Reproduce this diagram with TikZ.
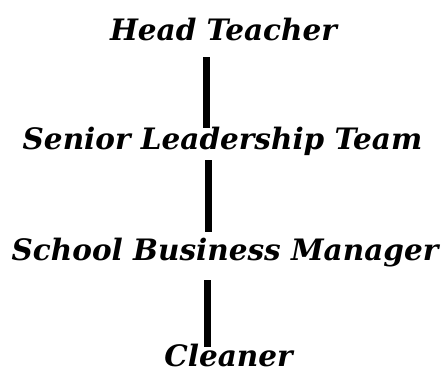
\documentclass[tikz,border=0pt]{standalone}
\usepackage{fontspec}
\setmainfont{DejaVu Serif}
\usetikzlibrary{calc}
\tikzstyle{rolename}=[anchor=base,inner sep=0pt,font=\fontsize{29.5}{34}\selectfont\bfseries\itshape]
\tikzstyle{reportline}=[black,line width=7pt]
\begin{document}
\begin{tikzpicture}[x=1pt,y=-1pt]
	% fix the page to the size of the reference
	\useasboundingbox (0,0) rectangle (445,370);
	% the four roles, placed on their baselines
	\node[rolename] (head) at (223.5,40) {Head Teacher};
	\node[rolename] (slt) at (222.5,149) {Senior Leadership Team};
	\node[rolename] (sbm) at (225,260) {School Business Manager};
	\node[rolename] (cleaner) at (228.5,366) {Cleaner};
	% end points of the reporting lines
	\coordinate (head-low) at (206.5,57);
	\coordinate (slt-high) at (206.5,128);
	\coordinate (slt-low) at (208.5,160);
	\coordinate (sbm-high) at (208.5,232);
	\coordinate (sbm-low) at (207.5,280);
	\coordinate (cleaner-high) at (207.5,347);
	\draw[reportline] (head-low) -- (slt-high);
	\draw[reportline] (slt-low) -- (sbm-high);
	\draw[reportline] (sbm-low) -- (cleaner-high);
\end{tikzpicture}
\end{document}
